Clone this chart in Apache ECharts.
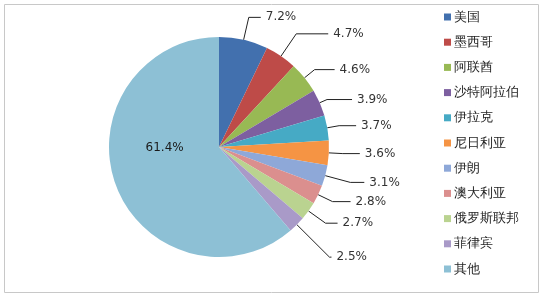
<!DOCTYPE html>
<html><head><meta charset="utf-8">
<script src="https://cdn.jsdelivr.net/npm/echarts@6/dist/echarts.min.js"></script>
<style>html,body{margin:0;padding:0;background:#fff}#c{width:543px;height:296px}</style>
</head><body><div id="c"></div>
<script>
const categories = ['美国','墨西哥','阿联酋','沙特阿拉伯','伊拉克','尼日利亚','伊朗','澳大利亚','俄罗斯联邦','菲律宾','其他'];
const values = [7.2,4.7,4.6,3.9,3.7,3.6,3.1,2.8,2.7,2.5,61.4];
const colors = ['#4270AE','#BE4B48','#98B954','#7D5FA0','#46AAC5','#F59444','#8EA8D8','#DB8F8E','#BAD390','#A99AC8','#8DC0D5'];
// label-line segment lengths (style, per slice)
const lineLen  = [23,27,13,8,12,14,26,16,21,46,0];
const lineLen2 = [12,32,20,25,17,17,14,18,12,2,0];

const chart = echarts.init(document.getElementById('c'));
const last = categories.length-1;
const data = categories.map((n,i)=>{
  const d = {name:n,value:values[i]};
  if (i===last) {
    d.label = {position:'inside', fontSize:12, color:'#1a1a1a', lineHeight:38,
      formatter:p=>p.value.toFixed(1)+'%\n '};
    d.labelLine = {show:false};
  } else {
    d.labelLine = {length:lineLen[i], length2:lineLen2[i]};
  }
  return d;
});
chart.setOption({
  animation:false,
  color: colors,
  graphic:[{type:'rect',shape:{x:4.5,y:4.5,width:534,height:288},style:{fill:'none',stroke:'#c8c8c8',lineWidth:1},silent:true}],
  legend:{orient:'vertical',left:439,top:5,itemWidth:7,itemHeight:7,itemGap:11.2,icon:'rect',
    textStyle:{fontSize:13,color:'#1f1f1f',lineHeight:14,padding:[0,0,0,-2]},
    data:categories},
  series:[{type:'pie',center:[219,147],radius:[0,110],startAngle:90,clockwise:true,
    data:data,
    label:{formatter:p=>p.value.toFixed(1)+'%',fontSize:12,color:'#333',fontFamily:'DejaVu Sans'},
    labelLine:{lineStyle:{color:'#222',width:1}},
    itemStyle:{borderColor:'#fff',borderWidth:0}
  }]
});
</script></body></html>
